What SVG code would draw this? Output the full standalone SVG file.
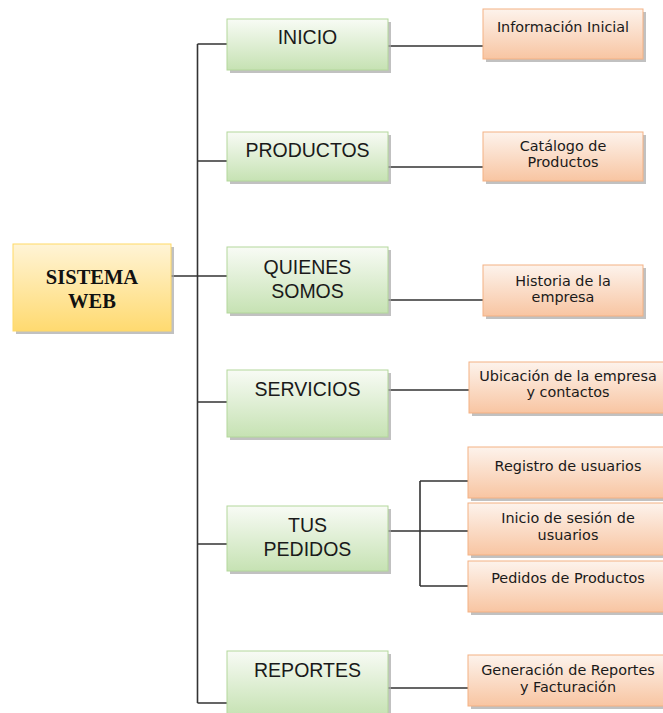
<svg xmlns="http://www.w3.org/2000/svg" width="663" height="713" viewBox="0 0 663 713">
<defs>
<linearGradient id="gG" x1="0" y1="0" x2="0" y2="1"><stop offset="0" stop-color="#f8fbf5"/><stop offset="1" stop-color="#c6e2b3"/></linearGradient>
<linearGradient id="gO" x1="0" y1="0" x2="0" y2="1"><stop offset="0" stop-color="#fdf3ec"/><stop offset="1" stop-color="#f8c5a2"/></linearGradient>
<linearGradient id="gY" x1="0" y1="0" x2="0" y2="1"><stop offset="0" stop-color="#fff4d6"/><stop offset="1" stop-color="#ffda70"/></linearGradient>
</defs>
<style>
.sh{fill:#a6a6a6;opacity:0.7}
.g{fill:url(#gG);stroke:#b3d79b;stroke-width:1}
.o{fill:url(#gO);stroke:#f4b183;stroke-width:1}
.y{fill:url(#gY);stroke:#ffd966;stroke-width:1}
.tg{font-family:"Liberation Sans",Arial,sans-serif;font-size:19.5px;fill:#1a1a1a;text-anchor:middle}
.to{font-family:"DejaVu Sans",Verdana,sans-serif;font-size:14.4px;fill:#1a1a1a;text-anchor:middle}
.ty{font-family:"Liberation Serif","Times New Roman",serif;font-size:20.5px;font-weight:bold;fill:#111;text-anchor:middle}
.c{fill:none;stroke:#333;stroke-width:1.6}
</style>
<g id="connectors">
<path class="c" d="M197.5 44 V703"/>
<path class="c" d="M171 276 H227"/>
<path class="c" d="M197.5 44 H227 M197.5 161 H227 M197.5 402 H227 M197.5 544 H227 M197.5 703 H227"/>
<path class="c" d="M388 46 H483 M388 167 H483 M388 300 H483 M388 390 H469 M388 688 H469"/>
<path class="c" d="M388 531 H468 M420 481 V586 M420 481 H468 M420 586 H468"/>
</g>
<g id="sistema-web">
<rect class="sh" x="16" y="247" width="158" height="87"/>
<rect class="y" x="13" y="244" width="158" height="87"/>
<text class="ty" x="92" y="284">SISTEMA</text>
<text class="ty" x="92" y="308">WEB</text>
</g>
<g id="inicio">
<rect class="sh" x="230" y="22" width="161" height="51"/>
<rect class="g" x="227" y="19" width="161" height="51"/>
<text class="tg" x="307.5" y="44">INICIO</text>
</g>
<g id="productos">
<rect class="sh" x="230" y="135" width="161" height="49"/>
<rect class="g" x="227" y="132" width="161" height="49"/>
<text class="tg" x="307.5" y="157">PRODUCTOS</text>
</g>
<g id="quienes-somos">
<rect class="sh" x="230" y="250" width="161" height="66"/>
<rect class="g" x="227" y="247" width="161" height="66"/>
<text class="tg" x="307.5" y="274">QUIENES</text>
<text class="tg" x="307.5" y="298">SOMOS</text>
</g>
<g id="servicios">
<rect class="sh" x="230" y="373" width="161" height="67"/>
<rect class="g" x="227" y="370" width="161" height="67"/>
<text class="tg" x="307.5" y="396">SERVICIOS</text>
</g>
<g id="tus-pedidos">
<rect class="sh" x="230" y="509" width="161" height="65"/>
<rect class="g" x="227" y="506" width="161" height="65"/>
<text class="tg" x="307.5" y="532">TUS</text>
<text class="tg" x="307.5" y="556">PEDIDOS</text>
</g>
<g id="reportes">
<rect class="sh" x="230" y="654" width="161" height="65"/>
<rect class="g" x="227" y="651" width="161" height="65"/>
<text class="tg" x="307.5" y="677">REPORTES</text>
</g>
<g id="informacion-inicial">
<rect class="sh" x="486" y="12" width="160" height="50"/>
<rect class="o" x="483" y="9" width="160" height="50"/>
<text class="to" x="563" y="32">Información Inicial</text>
</g>
<g id="catalogo">
<rect class="sh" x="486" y="135" width="160" height="49"/>
<rect class="o" x="483" y="132" width="160" height="49"/>
<text class="to" x="563" y="151">Catálogo de</text>
<text class="to" x="563" y="167">Productos</text>
</g>
<g id="historia">
<rect class="sh" x="486" y="268" width="160" height="51"/>
<rect class="o" x="483" y="265" width="160" height="51"/>
<text class="to" x="563" y="286">Historia de la</text>
<text class="to" x="563" y="302">empresa</text>
</g>
<g id="ubicacion">
<rect class="sh" x="472" y="365" width="195" height="51"/>
<rect class="o" x="469" y="362" width="195" height="51"/>
<text class="to" x="568" y="381">Ubicación de la empresa</text>
<text class="to" x="568" y="397">y contactos</text>
</g>
<g id="registro">
<rect class="sh" x="471" y="450" width="196" height="51"/>
<rect class="o" x="468" y="447" width="196" height="51"/>
<text class="to" x="568" y="471">Registro de usuarios</text>
</g>
<g id="inicio-sesion">
<rect class="sh" x="471" y="506" width="196" height="52"/>
<rect class="o" x="468" y="503" width="196" height="52"/>
<text class="to" x="568" y="523">Inicio de sesión de</text>
<text class="to" x="568" y="540">usuarios</text>
</g>
<g id="pedidos-productos">
<rect class="sh" x="471" y="564" width="196" height="51"/>
<rect class="o" x="468" y="561" width="196" height="51"/>
<text class="to" x="568" y="583">Pedidos de Productos</text>
</g>
<g id="generacion">
<rect class="sh" x="471" y="658" width="196" height="51"/>
<rect class="o" x="468" y="655" width="196" height="51"/>
<text class="to" x="568" y="675">Generación de Reportes</text>
<text class="to" x="568" y="692">y Facturación</text>
</g>
</svg>
